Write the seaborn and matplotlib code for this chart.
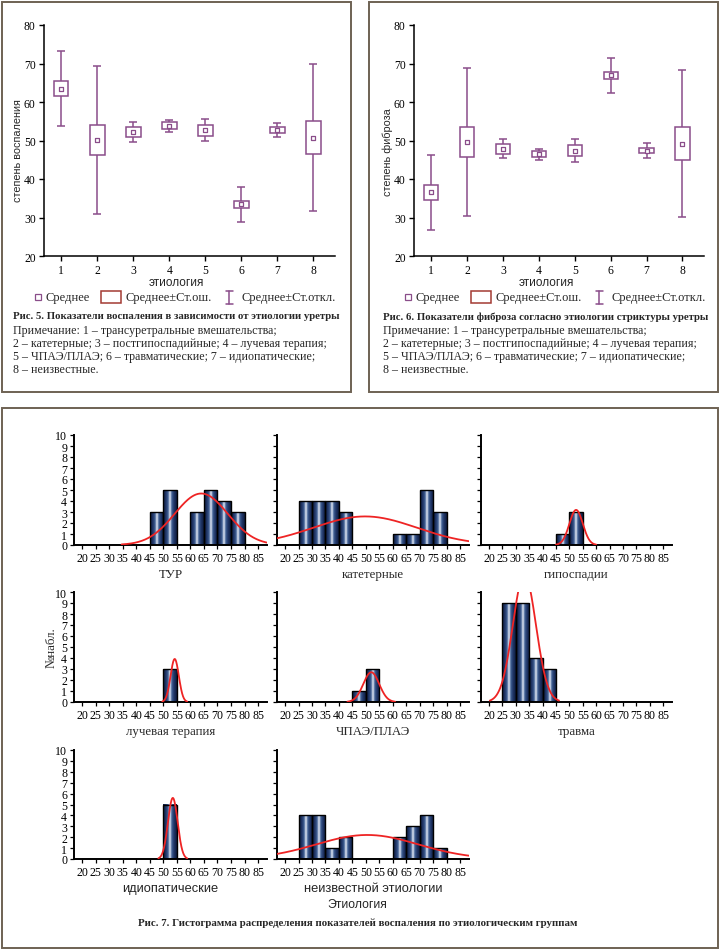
import numpy as np
import pandas as pd
import matplotlib
matplotlib.use("Agg")
import matplotlib.pyplot as plt
import seaborn as sns
from matplotlib.patches import Rectangle
from matplotlib.colors import LinearSegmentedColormap

# ---------------- data ----------------
groups = ["1", "2", "3", "4", "5", "6", "7", "8"]

# Fig. 5 - inflammation: mean, standard error, standard deviation
infl_mean = [63.5, 50.2, 52.2, 53.8, 52.7, 33.4, 52.7, 50.7]
infl_se = [2.0, 3.85, 1.35, 0.9, 1.45, 0.9, 0.8, 4.25]
infl_sd = [9.75, 19.2, 2.6, 1.5, 2.85, 4.45, 1.75, 19.05]

# Fig. 6 - fibrosis
fib_mean = [36.5, 49.6, 47.9, 46.4, 47.4, 66.9, 47.4, 49.2]
fib_se = [2.05, 3.85, 1.3, 0.8, 1.4, 0.85, 0.75, 4.25]
fib_sd = [9.75, 19.3, 2.5, 1.45, 2.9, 4.5, 1.85, 19.15]

# Fig. 7 - histograms (bins of width 5 from 20 to 85)
bin_edges = [20, 25, 30, 35, 40, 45, 50, 55, 60, 65, 70, 75, 80, 85]
hist_titles = ["ТУР", "катетерные", "гипоспадии", "лучевая терапия",
               "ЧПАЭ/ПЛАЭ", "травма", "идиопатические", "неизвестной этиологии"]
cnt_tur = [0, 0, 0, 0, 0, 3, 5, 0, 3, 5, 4, 3, 0]
cnt_cath = [0, 4, 4, 4, 3, 0, 0, 0, 1, 1, 5, 3, 0]
cnt_hypo = [0, 0, 0, 0, 0, 1, 3, 0, 0, 0, 0, 0, 0]
cnt_rad = [0, 0, 0, 0, 0, 0, 3, 0, 0, 0, 0, 0, 0]
cnt_tpae = [0, 0, 0, 0, 0, 1, 3, 0, 0, 0, 0, 0, 0]
cnt_trauma = [0, 9, 9, 4, 3, 0, 0, 0, 0, 0, 0, 0, 0]
cnt_idio = [0, 0, 0, 0, 0, 0, 5, 0, 0, 0, 0, 0, 0]
cnt_unknown = [0, 4, 4, 1, 2, 0, 0, 0, 2, 3, 4, 1, 0]
# fitted normal curves (mean, sd)
fit_mean = [64.0, 49.7, 52.5, 54.2, 52.0, 33.2, 53.5, 50.5]
fit_sd = [9.8, 19.2, 2.5, 1.53, 2.95, 4.3, 1.78, 19.0]

all_counts = [cnt_tur, cnt_cath, cnt_hypo, cnt_rad, cnt_tpae, cnt_trauma, cnt_idio, cnt_unknown]

legend_labels = ["Среднее", "Среднее±Ст.ош.", "Среднее±Ст.откл."]

# ---------------- style ----------------
sns.set_theme(style="ticks")
SERIF = ["Liberation Serif", "DejaVu Serif"]
SANS = ["Liberation Sans", "DejaVu Sans"]
plt.rcParams["font.family"] = SERIF

PURPLE = "#8a4d8a"
SEBOX = "#a33a33"
FRAME = "#6e6253"
RED = "#ee2424"

W, H = 720, 953
fig = plt.figure(figsize=(W / 100, H / 100), dpi=100)
fig.patch.set_facecolor("white")

# overlay in pixel coordinates for frames, legends and captions
lax = fig.add_axes([0, 0, 1, 1], zorder=5)
lax.set_xlim(0, W)
lax.set_ylim(H, 0)
lax.axis("off")
lax.patch.set_alpha(0)


def px_axes(l, t, r, b):
    return fig.add_axes([l / W, 1 - b / H, (r - l) / W, (b - t) / H])


def ftext(x, y, s, **kw):
    lax.text(x, y, s, **kw)


def frame(l, t, r, b):
    lax.add_patch(Rectangle((l, t), r - l, b - t, fill=False,
                            edgecolor=FRAME, linewidth=1.4))


frame(1.5, 3, 351, 392.5)
frame(368.5, 3, 718, 392.5)
frame(2, 409, 718, 949)


def mean_plot(ax, means, se, sd):
    x = np.arange(1, len(groups) + 1)
    means = np.asarray(means)
    se = np.asarray(se)
    sd = np.asarray(sd)
    ax.errorbar(x, means, yerr=sd, fmt="none", ecolor=PURPLE,
                elinewidth=1.1, capsize=2.6, capthick=1.1, zorder=2)
    ax.bar(x, 2 * se, bottom=means - se, width=0.4, facecolor="white",
           edgecolor=PURPLE, linewidth=1.1, zorder=3)
    sns.scatterplot(x=x, y=means, ax=ax, marker="s", s=9, facecolor="white",
                    edgecolor=PURPLE, linewidth=0.9, zorder=4)
    ax.set_xlim(0.52, 8.6)
    ax.set_ylim(20, 80)
    ax.set_xticks(x)
    ax.set_xticklabels(groups)
    ax.set_yticks([20, 30, 40, 50, 60, 70, 80])
    for s in ["top", "right"]:
        ax.spines[s].set_visible(False)
    for s in ["left", "bottom"]:
        ax.spines[s].set_linewidth(1.1)
        ax.spines[s].set_color("black")
    ax.tick_params(axis="both", direction="out", length=3.5, width=1.0,
                   labelsize=8.4, pad=2.5, colors="black")
    ax.set_xlabel("")
    ax.set_ylabel("")


def legend_row(x0, y):
    fs = 9.0
    lax.plot([x0 + 38], [y], ls="none", marker="s", ms=4, mfc="white",
             mec=PURPLE, mew=0.9)
    ftext(x0 + 45, y, legend_labels[0], ha="left", va="center", fontsize=fs)
    lax.add_patch(Rectangle((x0 + 101, y - 6), 20, 12, fill=False,
                            edgecolor=SEBOX, linewidth=1.1))
    ftext(x0 + 126, y, legend_labels[1], ha="left", va="center", fontsize=fs)
    lax.plot([x0 + 229, x0 + 229], [y - 6.5, y + 6.5], color=PURPLE, lw=1.1)
    lax.plot([x0 + 225.5, x0 + 232.5], [y - 6.5, y - 6.5], color=PURPLE, lw=1.1)
    lax.plot([x0 + 225.5, x0 + 232.5], [y + 6.5, y + 6.5], color=PURPLE, lw=1.1)
    ftext(x0 + 241, y, legend_labels[2], ha="left", va="center", fontsize=fs)


notes = ["Примечание: 1 – трансуретральные вмешательства;",
         "2 – катетерные; 3 – постгипоспадийные; 4 – лучевая терапия;",
         "5 – ЧПАЭ/ПЛАЭ; 6 – травматические; 7 – идиопатические;",
         "8 – неизвестные."]

# ---- Fig 5 ----
ax5 = px_axes(44, 26, 335, 257)
mean_plot(ax5, infl_mean, infl_se, infl_sd)
ftext(18, 151, "степень воспаления", rotation=90, ha="center", va="center",
      fontsize=7.8, family=SANS)
ftext(176, 283, "этиология", ha="center", va="center", fontsize=8.5, family=SANS)
legend_row(0, 298)
ftext(13, 317, "Рис. 5. Показатели воспаления в зависимости от этиологии уретры",
      ha="left", va="center", fontsize=7.75, fontweight="bold")
for i, line in enumerate(notes):
    ftext(13, 331 + 13 * i, line, ha="left", va="center", fontsize=8.6)

# ---- Fig 6 ----
ax6 = px_axes(414, 26, 704, 257)
mean_plot(ax6, fib_mean, fib_se, fib_sd)
ftext(388, 152, "степень фиброза", rotation=90, ha="center", va="center",
      fontsize=7.8, family=SANS)
ftext(546, 283, "этиология", ha="center", va="center", fontsize=8.5, family=SANS)
legend_row(370, 298)
ftext(383, 317, "Рис. 6. Показатели фиброза согласно этиологии стриктуры уретры",
      ha="left", va="center", fontsize=7.75, fontweight="bold")
for i, line in enumerate(notes):
    ftext(383, 331 + 13 * i, line, ha="left", va="center", fontsize=8.6)

# ---- Fig 7 ----
cmap = LinearSegmentedColormap.from_list(
    "cyl",
    [(0.0, "#0f1c3e"), (0.2, "#1f3566"), (0.36, "#3f5e92"), (0.45, "#a8b8d4"),
     (0.5, "#f4f7fc"), (0.55, "#a8b8d4"), (0.64, "#3f5e92"), (0.8, "#1f3566"),
     (1.0, "#0f1c3e")])
grad = np.linspace(0, 1, 64).reshape(1, -1)

cols = [(74, 267), (277, 469), (481, 672)]
rows = [(436, 546), (593, 703), (751, 860)]
title_sans = {"идиопатические", "неизвестной этиологии"}
centers = [(a + b) / 2 for a, b in zip(bin_edges[:-1], bin_edges[1:])]

for k, (title, counts) in enumerate(zip(hist_titles, all_counts)):
    r, c = divmod(k, 3)
    l, rr = cols[c]
    t, b = rows[r]
    ax = px_axes(l, t, rr, b)
    df = pd.DataFrame({"value": centers, "n": counts})
    sns.histplot(data=df, x="value", weights="n", bins=list(bin_edges), ax=ax,
                 stat="count", color="#2b4578", edgecolor="black",
                 linewidth=1.0, alpha=1)
    for p in ax.patches:
        h = p.get_height()
        if h > 0:
            x0 = p.get_x()
            w = p.get_width()
            ax.imshow(grad, extent=[x0, x0 + w, 0, h], aspect="auto", cmap=cmap,
                      zorder=2, interpolation="bilinear")
        p.set_facecolor("none")
        p.set_zorder(3)
    n = sum(counts)
    mu, sd = fit_mean[k], fit_sd[k]
    xs = np.linspace(max(17, mu - 3 * sd), min(88.3, mu + 3 * sd), 300)
    ys = n * 5 * np.exp(-0.5 * ((xs - mu) / sd) ** 2) / (sd * np.sqrt(2 * np.pi))
    sns.lineplot(x=xs, y=ys, ax=ax, color=RED, linewidth=1.3, zorder=4)
    ax.set_xlim(17, 88.3)
    ax.set_ylim(0, 10)
    ax.set_xticks(bin_edges)
    ax.set_yticks(range(0, 11))
    for s in ["top", "right"]:
        ax.spines[s].set_visible(False)
    for s in ["left", "bottom"]:
        ax.spines[s].set_linewidth(1.4)
        ax.spines[s].set_color("black")
    ax.tick_params(axis="both", direction="out", length=3, width=0.9,
                   labelsize=8.6, pad=2, colors="black")
    if c != 0:
        ax.set_yticklabels([])
    ax.set_ylabel("")
    ax.set_xlabel(title, fontsize=9.3, labelpad=3,
                  family=SANS if title in title_sans else SERIF)

ftext(52, 648, "№набл.", rotation=90, ha="center", va="center", fontsize=9.3)
ftext(357, 905, "Этиология", ha="center", va="center", fontsize=8.8, family=SANS)
ftext(358, 923, "Рис. 7. Гистограмма распределения показателей воспаления по этиологическим группам",
      ha="center", va="center", fontsize=7.8, fontweight="bold")

fig.savefig("out.png", dpi=100, facecolor="white")
